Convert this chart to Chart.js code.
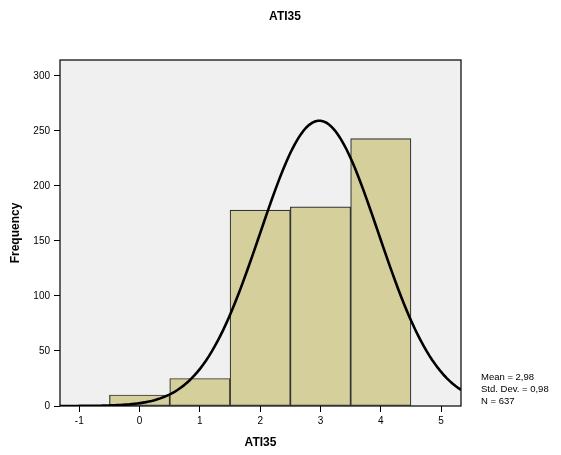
<!DOCTYPE html>
<html>
<head>
<meta charset="utf-8">
<script src="https://cdn.jsdelivr.net/npm/chart.js@4/dist/chart.umd.min.js"></script>
<style>
  html, body { margin: 0; padding: 0; background: #ffffff; }
  canvas { display: block; }
</style>
</head>
<body>
<canvas id="hist" width="561" height="455"></canvas>
<script>
// Histogram of ATI35 responses with a fitted normal curve
const binCenters = [0, 1, 2, 3, 4];
const frequencies = [10, 25, 178, 181, 243];
const xTicks = [-1, 0, 1, 2, 3, 4, 5];
const yTicks = [0, 50, 100, 150, 200, 250, 300];
const statLines = ['Mean = 2,98', 'Std. Dev. = 0,98', 'N = 637'];
const MEAN = 2.98;
const SD = 0.98;
const N = 637;
const BIN_WIDTH = 1;

const X_MIN = -1.32, X_MAX = 5.33;
const Y_MAX = 314.5;

// Expected count per bin under the normal distribution with the stated mean and SD
function normalCount(x) {
  const z = (x - MEAN) / SD;
  return N * BIN_WIDTH * Math.exp(-0.5 * z * z) / (SD * Math.sqrt(2 * Math.PI));
}
const curvePoints = [];
for (let i = 0; i <= 140; i++) {
  const x = X_MIN + (X_MAX - X_MIN) * i / 140;
  curvePoints.push({ x: x, y: normalCount(x) });
}

const FONT = "'Liberation Sans', Arial, Helvetica, sans-serif";

const framePlugin = {
  id: 'frame',
  beforeDraw(chart) {
    const { ctx, chartArea: a } = chart;
    ctx.save();
    ctx.fillStyle = '#f0f0f0';
    ctx.fillRect(a.left, a.top, a.right - a.left, a.bottom - a.top);
    ctx.restore();
  },
  afterDraw(chart) {
    const { ctx, chartArea: a } = chart;
    ctx.save();
    ctx.strokeStyle = '#000000';
    ctx.lineWidth = 1.2;
    ctx.strokeRect(a.left, a.top, a.right - a.left, a.bottom - a.top);
    // Title
    ctx.fillStyle = '#000000';
    ctx.font = 'bold 12px ' + FONT;
    ctx.textAlign = 'center';
    ctx.textBaseline = 'middle';
    ctx.fillText('ATI35', 285, 17);
    // Summary statistics
    ctx.font = '9.5px ' + FONT;
    ctx.textAlign = 'left';
    statLines.forEach((t, i) => ctx.fillText(t, a.right + 20, 377 + i * 12));
    ctx.restore();
  }
};

new Chart(document.getElementById('hist'), {
  type: 'bar',
  data: {
    datasets: [
      {
        type: 'line',
        data: curvePoints,
        borderColor: '#000000',
        borderWidth: 2.6,
        pointRadius: 0,
        tension: 0,
        fill: false,
        order: 0
      },
      {
        type: 'bar',
        data: binCenters.map((c, i) => ({ x: c, y: frequencies[i] })),
        backgroundColor: '#d4cf9b',
        borderColor: '#333333',
        borderWidth: 1.2,
        borderSkipped: false,
        barPercentage: 1,
        categoryPercentage: 1,
        order: 1
      }
    ]
  },
  options: {
    responsive: false,
    animation: false,
    layout: { padding: { left: 0, right: 100, top: 60, bottom: 0 } },
    plugins: { legend: { display: false }, tooltip: { enabled: false }, title: { display: false } },
    scales: {
      x: {
        type: 'linear',
        min: X_MIN,
        max: X_MAX,
        offset: false,
        afterBuildTicks(scale) { scale.ticks = xTicks.map(v => ({ value: v })); },
        afterFit(scale) { scale.height = 49; },
        ticks: { autoSkip: false, maxRotation: 0, color: '#000', padding: 3, font: { family: FONT, size: 10 } },
        grid: { offset: false, drawOnChartArea: false, drawTicks: true, tickLength: 6, color: '#000', lineWidth: 1 },
        border: { display: false },
        title: { display: true, text: 'ATI35', color: '#000', font: { family: FONT, size: 12, weight: 'bold' }, padding: { top: 0, bottom: 5 } }
      },
      y: {
        min: 0,
        max: Y_MAX,
        afterBuildTicks(scale) { scale.ticks = yTicks.map(v => ({ value: v })); },
        afterFit(scale) { scale.width = 60; },
        ticks: { autoSkip: false, color: '#000', padding: 4, font: { family: FONT, size: 10 } },
        grid: { drawOnChartArea: false, drawTicks: true, tickLength: 6, color: '#000', lineWidth: 1 },
        border: { display: false },
        title: { display: true, text: 'Frequency', color: '#000', font: { family: FONT, size: 12, weight: 'bold' }, padding: { top: 8, bottom: 0 } }
      }
    }
  },
  plugins: [framePlugin]
});
</script>
</body>
</html>
